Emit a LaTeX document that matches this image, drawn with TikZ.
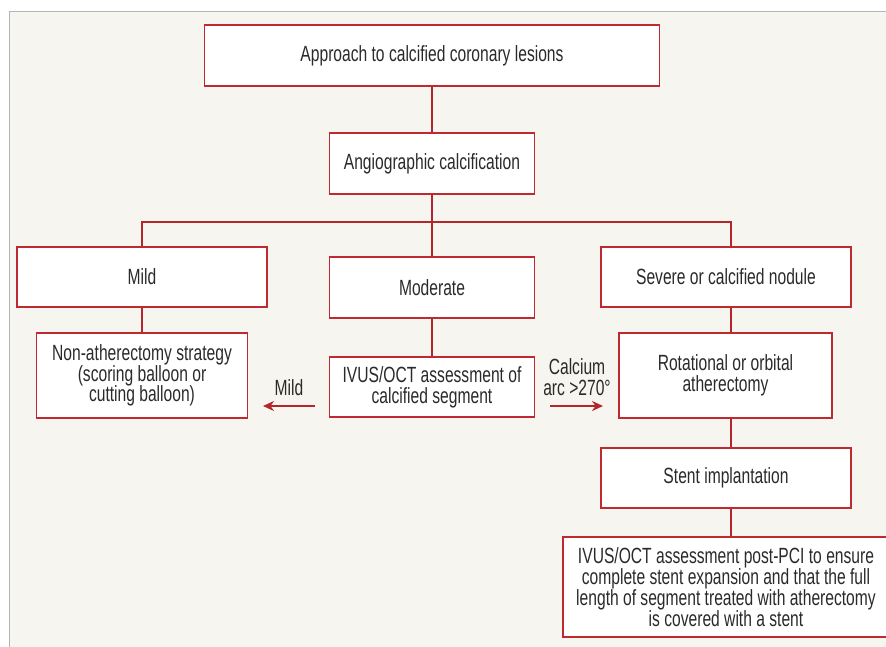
\documentclass[tikz,border=0pt]{standalone}
\usepackage{fontspec}
\setmainfont{Liberation Sans}[FakeStretch=0.71]
\usetikzlibrary{arrows.meta,calc}
\definecolor{panelbg}{HTML}{F6F5EF}
\definecolor{framegray}{HTML}{B4B4B4}
\definecolor{boxred}{HTML}{BE2A30}
\definecolor{linered}{HTML}{B3262C}
\definecolor{txt}{HTML}{2A2A2A}
\begin{document}
\begin{tikzpicture}[x=1pt,y=-1pt,
  box/.style={draw=boxred, line width=1.4pt, fill=white, inner sep=0pt, align=center, text=txt, font=\fontsize{22}{20.8}\selectfont},
  conn/.style={draw=linered, line width=1.5pt},
  arr/.style={draw=linered, line width=2pt, -{Stealth[length=11pt,width=10pt]}},
  lbl/.style={text=txt, align=center, font=\fontsize{22}{21}\selectfont, inner sep=0pt}]
\clip (0,0) rectangle (886,647);
\fill[panelbg] (9.5,11.5) rectangle (900,660);
\draw[framegray, line width=1.2pt] (9.5,660) -- (9.5,11.5) -- (900,11.5);

\node[box, minimum width=455, minimum height=61] (top) at (432,55.5) {Approach to calcified coronary lesions};
\node[box, minimum width=205, minimum height=61] (angio) at (432,163.5) {Angiographic calcification};
\node[box, minimum width=250, minimum height=60] (mild) at (142,277) {Mild};
\node[box, minimum width=205, minimum height=61] (mod) at (432,287.5) {Moderate};
\node[box, minimum width=250, minimum height=60] (sev) at (726,277) {Severe or calcified nodule};
\node[box, minimum width=211, minimum height=85] (nonath) at (142,375.5) {Non-atherectomy strategy\\(scoring balloon or\\cutting balloon)};
\node[box, minimum width=205, minimum height=60] (ivus) at (432,387) {IVUS/OCT assessment of\\calcified segment};
\node[box, minimum width=213, minimum height=85] (rot) at (725.5,375.5) {Rotational or orbital\\atherectomy};
\node[box, minimum width=250, minimum height=60] (stent) at (726,478) {Stent implantation};
\node[box, minimum width=326, minimum height=100] (final) at (726,587) {IVUS/OCT assessment post-PCI to ensure\\complete stent expansion and that the full\\length of segment treated with atherectomy\\is covered with a stent};

\coordinate (rx) at (731,222);
\draw[conn] (top.south) -- (angio.north);
\draw[conn] (angio.south) -- (mod.north);
\draw[conn] (mild.north) |- (rx) -- (rx |- sev.north);
\draw[conn] (mild.south) -- (nonath.north);
\draw[conn] (mod.south) -- (ivus.north);
\draw[conn] (rx |- sev.south) -- (rx |- rot.north);
\draw[conn] (rx |- rot.south) -- (rx |- stent.north);
\draw[conn] (rx |- stent.south) -- (rx |- final.north);

\coordinate (mA) at (315,406);
\coordinate (mB) at (263,406);
\draw[arr] (mA) -- (mB);
\node[lbl] (mildlbl) at (289,388) {Mild};
\coordinate (cA) at (550,406);
\coordinate (cB) at (603,406);
\draw[arr] (cA) -- (cB);
\node[lbl] (calclbl) at (577,377.5) {Calcium\\arc >270°};
\end{tikzpicture}
\end{document}
